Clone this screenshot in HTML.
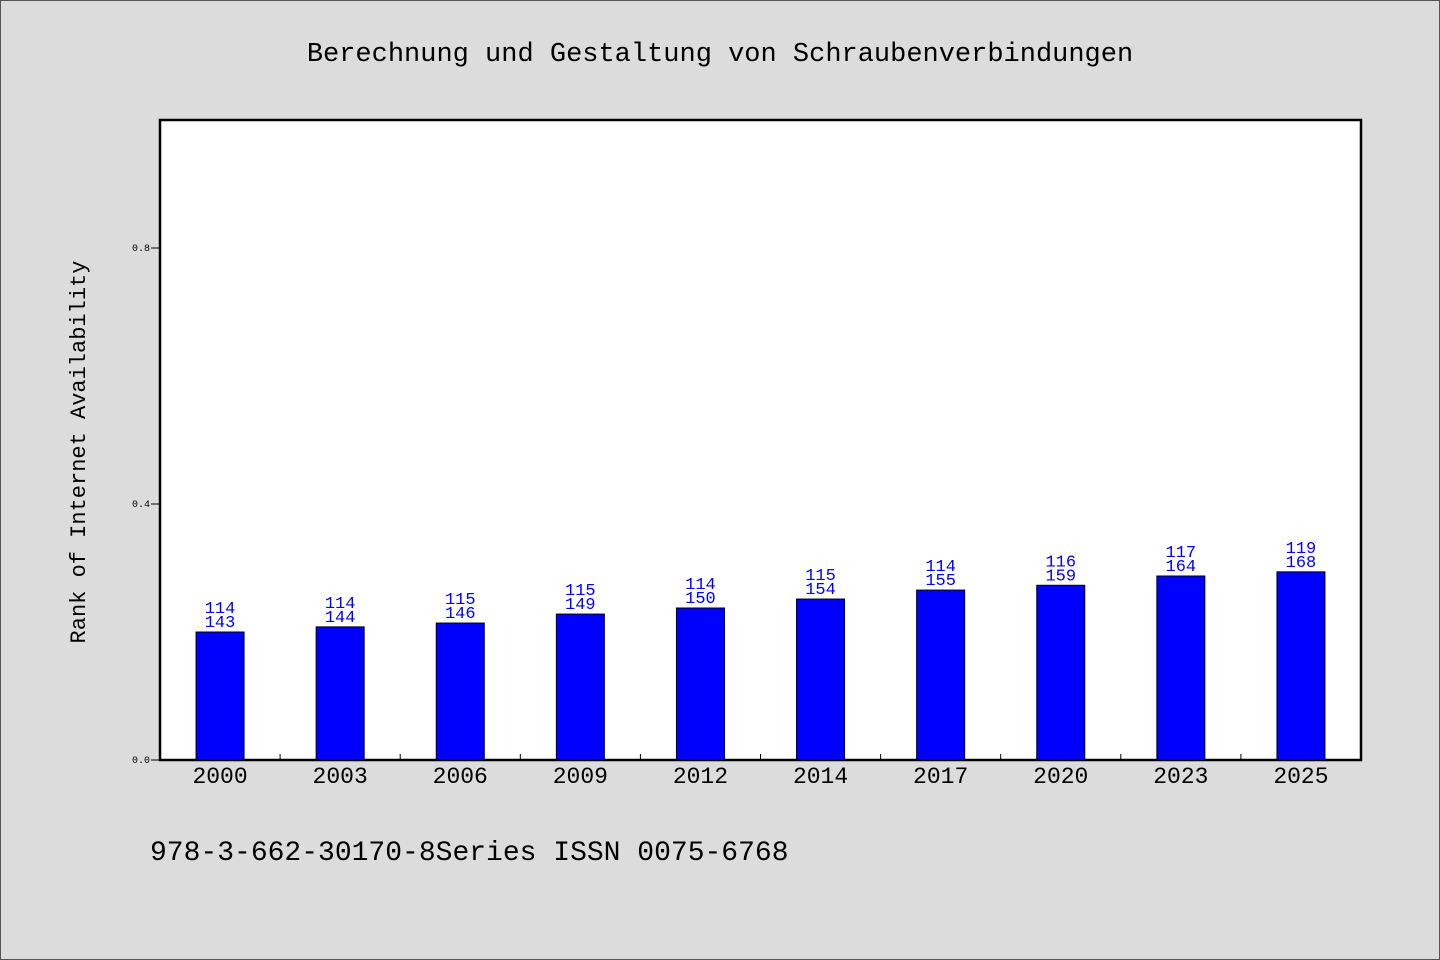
<!DOCTYPE html>
<html><head><meta charset="utf-8"><style>
body{margin:0;background:#dcdcdc;}
svg{display:block;font-family:"WenQuanYi Zen Hei","Liberation Mono",monospace;}
</style></head><body>
<svg width="1440" height="960" xmlns="http://www.w3.org/2000/svg">
<rect x="0.5" y="0.5" width="1439" height="959" fill="#dcdcdc" stroke="#555"/>
<text x="720" y="61" text-anchor="middle" font-size="27" fill="#000">Berechnung und Gestaltung von Schraubenverbindungen</text>
<rect x="160" y="120" width="1201" height="640" fill="#fff" stroke="#000" stroke-width="2.5"/>
<text transform="translate(85,452) rotate(-90)" text-anchor="middle" font-size="22" fill="#000">Rank of Internet Availability</text>
<text x="150" y="860" font-size="28" fill="#000">978-3-662-30170-8Series ISSN 0075-6768</text>
<g id="marks"></g>
</svg>
<script>
const categories=["2000","2003","2006","2009","2012","2014","2017","2020","2023","2025"];
const values=[0.200,0.208,0.214,0.228,0.2375,0.2515,0.2655,0.273,0.2875,0.294];
const labelTop=["114","114","115","115","114","115","114","116","117","119"];
const labelBottom=["143","144","146","149","150","154","155","159","164","168"];
const yTicks=[0.0,0.4,0.8];
const yTickLabels=["0.0","0.4","0.8"];
const NS="http://www.w3.org/2000/svg";
const g=document.getElementById('marks');
const x0=160,x1=1361,y0=760,y1=120,yMax=1.0;
const band=(x1-x0)/categories.length;
const yS=v=>y0-(v/yMax)*(y0-y1);
const xC=i=>x0+band*(i+0.5);
function mk(t,a){const e=document.createElementNS(NS,t);for(const k in a)e.setAttribute(k,a[k]);g.appendChild(e);return e;}
yTicks.forEach((v,i)=>{
 const l=mk('line',{x1:151,x2:159,y1:yS(v),y2:yS(v),stroke:'#000'});
 
 
 const t=mk('text',{x:150,y:yS(v)+3,'text-anchor':'end','font-size':10,fill:'#000'});
 t.textContent=yTickLabels[i];
 
 
});
categories.forEach((c,i)=>{
 if(i>0){const tk=mk('line',{x1:x0+band*i,x2:x0+band*i,y1:y0,y2:y0-6,stroke:'#000'});
 
 }
 const cx=xC(i),top=yS(values[i]);
 const b=mk('rect',{x:cx-24,y:top,width:48,height:y0-top,fill:'#0000ff',stroke:'#000','stroke-width':1});
 
 
 const t1=mk('text',{x:cx,y:top-19,'text-anchor':'middle','font-size':17,fill:'#0000ff'});
 t1.textContent=labelTop[i];
 
 
 const t2=mk('text',{x:cx,y:top-5,'text-anchor':'middle','font-size':17,fill:'#0000ff'});
 t2.textContent=labelBottom[i];
 
 
 const xl=mk('text',{x:cx,y:783,'text-anchor':'middle','font-size':23,fill:'#000'});
 xl.textContent=c;
 
 
});
</script>
</body></html>
